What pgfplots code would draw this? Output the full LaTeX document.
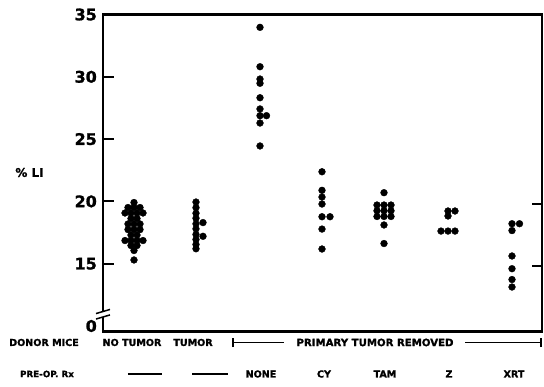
\documentclass[border=0pt]{standalone}
\usepackage{pgfplots}
\pgfplotsset{compat=1.18}
\usepackage{fontspec}
\setmainfont{DejaVu Sans}[BoldFeatures={FakeBold=1.3}]
\newcommand{\rowfont}{\bfseries\fontsize{9.6}{10}\selectfont}
\begin{document}
\begin{tikzpicture}
\begin{axis}[
  name=ax,
  scale only axis,
  width=439bp, height=317bp,
  xmin=103, xmax=542,
  ymin=9.56, ymax=35,
  clip=false,
  axis line style={line width=2.2bp},
  xtick=\empty,
  ytick={15,20,25,30,35},
  ytick pos=left,
  tick align=inside,
  major tick length=11bp,
  major tick style={black, line width=2bp},
  /pgf/number format/assume math mode=true,
  yticklabel style={font=\bfseries\fontsize{16}{16}\selectfont, inner sep=0pt, xshift=-6bp},
  extra y ticks={10},
  extra y tick labels={0},
  extra y tick style={major tick length=0pt},
]
\addplot[only marks, mark=*, mark size=3.4bp, black] coordinates {
(134,19.91)
(128,19.51)(134,19.51)(140,19.51)
(125,19.07)(131,19.07)(137,19.07)(143,19.07)
(131,18.63)(137,18.63)
(128,18.19)(134,18.19)(140,18.19)
(128,17.74)(134,17.74)(140,17.74)
(131,17.30)(137,17.30)
(125,16.86)(131,16.86)(137,16.86)(143,16.86)
(131,16.46)(137,16.46)
(134,16.06)
(134,15.30)
};
\addplot[only marks, mark=*, mark size=3.4bp, black] coordinates {
(196,19.95)(196,19.5)(196,19.05)(196,18.65)(196,18.2)(196,17.8)
(196,17.35)(196,16.95)(196,16.55)(196,16.2)
(203,18.3)(203,17.2)
};
\addplot[only marks, mark=*, mark size=3.4bp, black] coordinates {
(260,33.97)(260,30.81)(260,29.82)(260,29.48)(260,28.32)(260,27.42)
(260,26.88)(266.5,26.88)(260,26.29)(260,24.45)
};
\addplot[only marks, mark=*, mark size=3.4bp, black] coordinates {
(322,22.38)(322,20.89)(322,20.35)(322,19.79)(322,18.77)(330,18.77)
(322,17.78)(322,16.18)
};
\addplot[only marks, mark=*, mark size=3.4bp, black] coordinates {
(384,20.70)
(377,19.71)(384,19.71)(391,19.71)
(377,19.25)(384,19.25)(391,19.25)
(377,18.79)(384,18.79)(391,18.79)
(384,18.11)(384,16.62)
};
\addplot[only marks, mark=*, mark size=3.4bp, black] coordinates {
(448,19.23)(455,19.23)(448,18.83)(441,17.62)(448,17.62)(455,17.62)
};
\addplot[only marks, mark=*, mark size=3.4bp, black] coordinates {
(512,18.21)(519.5,18.21)(512,17.66)(512,15.62)(512,14.60)(512,13.73)(512,13.13)
};
% right-side ticks
\draw[line width=2bp] (axis cs:542,19.8) -- (axis cs:532,19.8);
\draw[line width=2bp] (axis cs:542,14.8) -- (axis cs:532,14.8);
% axis break
\fill[white] (axis cs:99,10.74) rectangle (axis cs:107,11.14);
\draw[line width=1.5bp] (axis cs:96,11.0) -- (axis cs:110,11.33);
\draw[line width=1.5bp] (axis cs:96,10.56) -- (axis cs:110,10.89);
% y label
\node[font=\bfseries\fontsize{12}{12}\selectfont] at (axis cs:29.5,22.32) {\% LI};
% row 1
\node[font=\rowfont] at (axis cs:44,8.68) {DONOR MICE};
\node[font=\rowfont] at (axis cs:132,8.68) {NO TUMOR};
\node[font=\rowfont] at (axis cs:193,8.68) {TUMOR};
\node[font=\bfseries\fontsize{10.2}{10}\selectfont] at (axis cs:375,8.68) {PRIMARY TUMOR REMOVED};
\draw[line width=1.4bp] (axis cs:233,8.68) -- (axis cs:284,8.68);
\draw[line width=1.4bp] (axis cs:465,8.68) -- (axis cs:541,8.68);
\draw[line width=1.6bp] (axis cs:233,8.30) -- (axis cs:233,9.06);
\draw[line width=1.6bp] (axis cs:541,8.30) -- (axis cs:541,9.06);
% row 2
\node[font=\bfseries\fontsize{8.8}{10}\selectfont] at (axis cs:47,6.15) {PRE-OP. Rx};
\draw[line width=1.4bp] (axis cs:128,6.15) -- (axis cs:162,6.15);
\draw[line width=1.4bp] (axis cs:192,6.15) -- (axis cs:228,6.15);
\node[font=\rowfont] at (axis cs:261,6.15) {NONE};
\node[font=\rowfont] at (axis cs:324,6.15) {CY};
\node[font=\rowfont] at (axis cs:385,6.15) {TAM};
\node[font=\rowfont] at (axis cs:449,6.15) {Z};
\node[font=\rowfont] at (axis cs:514,6.15) {XRT};
\end{axis}
\pgfresetboundingbox
\path[use as bounding box] ([xshift=-103bp,yshift=-55.5bp]ax.south west) rectangle ++(544bp,387bp);
\end{tikzpicture}
\end{document}
